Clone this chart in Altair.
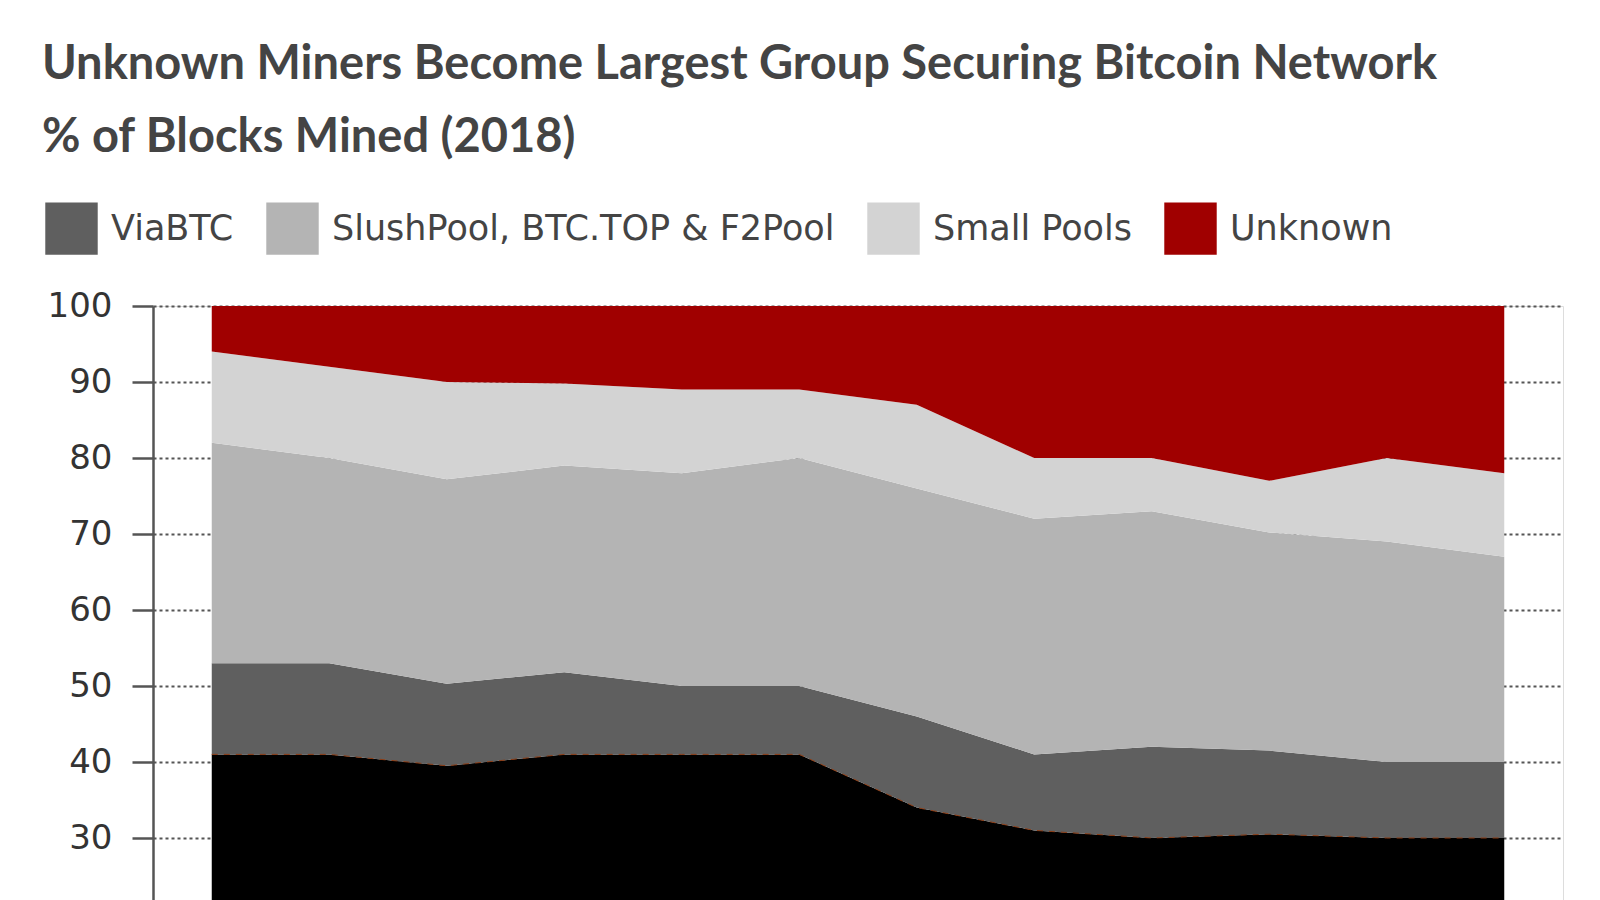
import altair as alt
import pandas as pd

months = ["Jan", "Feb", "Mar", "Apr", "May", "Jun", "Jul", "Aug", "Sep", "Oct", "Nov", "Dec"]
series = ["BTC.com & AntPool", "ViaBTC", "SlushPool, BTC.TOP & F2Pool", "Small Pools", "Unknown"]
colors = ["#000000", "#5f5f5f", "#b4b4b4", "#d3d3d3", "#a00000"]

bitmain = [41, 41, 39.5, 41, 41, 41, 34, 31, 30, 30.5, 30, 30]
viabtc = [12, 12, 10.8, 10.8, 9, 9, 12, 10, 12, 11, 10, 10]
slush = [29, 27, 26.9, 27.2, 28, 30, 30, 31, 31, 28.7, 29, 27]
small = [12, 12, 12.8, 10.8, 11, 9, 11, 8, 7, 6.8, 11, 11]
unknown = [6, 8, 10, 10.2, 11, 11, 13, 20, 20, 23, 20, 22]
y_ticks = [20, 30, 40, 50, 60, 70, 80, 90, 100]

values = [bitmain, viabtc, slush, small, unknown]
rows = []
for i, (name, vals) in enumerate(zip(series, values)):
    for m, v in zip(months, vals):
        rows.append({"month": m, "group": name, "share": v, "rank": i})
df = pd.DataFrame(rows)
line_df = pd.DataFrame({"month": months, "share": bitmain})

xenc = alt.X("month:O", sort=months, scale=alt.Scale(type="point", padding=0.5), axis=None)

area = alt.Chart(df).mark_area(opacity=1).encode(
    x=xenc,
    y=alt.Y("share:Q", stack="zero",
            scale=alt.Scale(domain=[0, 100], nice=False),
            axis=alt.Axis(title=None, values=y_ticks,
                          labelFont="DejaVu Sans", labelFontSize=34, labelColor="#333",
                          labelPadding=20, tickSize=21, tickWidth=2.5, tickColor="#555",
                          domainColor="#555", domainWidth=2.5,
                          grid=True, gridColor="#555", gridDash=[3, 3], gridWidth=2)),
    color=alt.Color("group:N", scale=alt.Scale(domain=series, range=colors),
                    legend=alt.Legend(values=series[1:], title=None, orient="none",
                                      legendX=-108, legendY=-104, direction="horizontal",
                                      symbolType="square", symbolSize=2750,
                                      symbolStrokeWidth=0, labelFont="DejaVu Sans",
                                      labelFontSize=35, labelColor="#444", labelOffset=13,
                                      labelLimit=0, columnPadding=32, symbolOpacity=1)),
    order=alt.Order("rank:Q"),
)

edge = alt.Chart(line_df).mark_line(color="#8a3a12", strokeWidth=1, strokeDash=[6, 6]).encode(
    x=xenc, y=alt.Y("share:Q")
)

chart = (area + edge).properties(
    width=1410, height=760,
    padding={"left": 34, "top": 33, "right": 20, "bottom": 20},
    title=alt.Title(
        text=["Unknown Miners Become Largest Group Securing Bitcoin Network", "% of Blocks Mined (2018)"],
        anchor="start", font="Lato", fontSize=47, fontWeight="bold", color="#444",
        lineHeight=73, dx=-3, offset=40,
    ),
).configure_view(stroke="#dcdcdc", strokeWidth=2).configure(background="white")

chart.save("out.html", embed_options={"renderer": "svg", "actions": False})
